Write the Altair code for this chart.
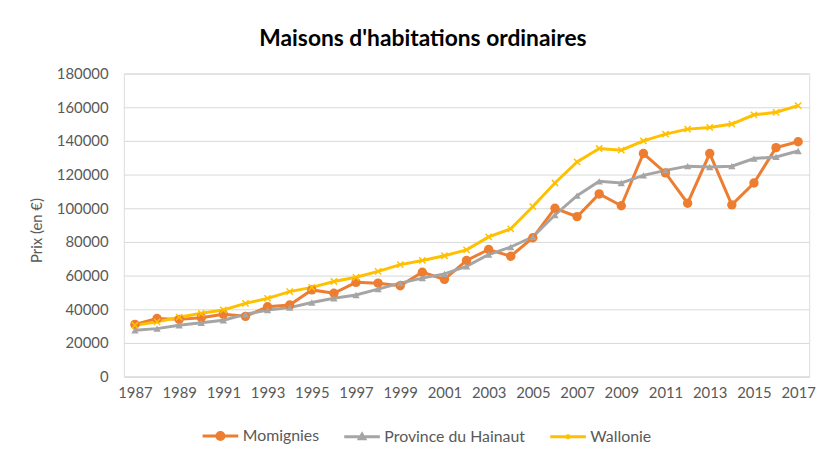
import altair as alt
import pandas as pd

years = list(range(1987, 2018))
momignies = [31000, 34500, 34000, 35000, 37000, 35800, 41500, 42500, 51500, 49500,
             56000, 55500, 54000, 62000, 57800, 69000, 75500, 71500, 82500, 100000,
             95000, 108500, 101500, 132500, 121000, 103000, 132500, 102000, 115000,
             136000, 139500]
hainaut = [27500, 28500, 30500, 32000, 33500, 37000, 39500, 41000, 44000, 46500,
           48500, 52000, 55500, 58500, 61000, 65500, 72500, 77000, 83000, 96000,
           107500, 116000, 115000, 119500, 122500, 125000, 124500, 125000, 129500,
           130500, 134000]
wallonie = [30500, 32500, 35300, 37600, 39600, 43500, 46500, 50500, 53000, 56500,
            59000, 62500, 66500, 69000, 71800, 75300, 83000, 87800, 101000, 115000,
            127500, 135500, 134500, 140000, 144000, 147000, 148000, 150000, 155500,
            157000, 161000]
series = ["Momignies", "Province du Hainaut", "Wallonie"]
colors = ["#ED7D31", "#A5A5A5", "#FFC000"]
x_ticks = list(range(1987, 2018, 2))
y_ticks = list(range(0, 180001, 20000))

rows = []
for name, vals in zip(series, [momignies, hainaut, wallonie]):
    for yr, v in zip(years, vals):
        rows.append({"year": yr, "prix": v, "serie": name})
df = pd.DataFrame(rows)

FONT = "Lato"
TXT = "#595959"

x = alt.X("year:Q",
          scale=alt.Scale(domain=[1986.5, 2017.5], nice=False, zero=False),
          axis=alt.Axis(values=x_ticks, format="d", title=None, grid=False, ticks=False,
                        domainColor="#D9D9D9", domainWidth=1, labelPadding=9,
                        labelFlush=False, labelOverlap=False, labelFont=FONT,
                        labelFontSize=15, labelColor=TXT))
y = alt.Y("prix:Q",
          scale=alt.Scale(domain=[0, 180000], nice=False),
          axis=alt.Axis(values=y_ticks, format="d", title="Prix (en €)", ticks=False,
                        domain=False, gridColor="#D9D9D9", gridWidth=1, labelPadding=16,
                        labelFont=FONT, labelFontSize=15, labelColor=TXT,
                        titleFont=FONT, titleFontSize=15, titleFontWeight="normal",
                        titleColor=TXT, titleX=-88, titleY=158, titleAngle=270,
                        titleAlign="center", titleBaseline="middle"))

p_circle = "M-1,0H1M-0.2,0A0.2,0.2,0,1,0,0.2,0A0.2,0.2,0,1,0,-0.2,0Z"
p_tri = "M-1,0H1M-0.15,0.12L0,-0.14L0.15,0.12Z"
p_cross = "M-1,0H1M-0.1,-0.1L0.1,0.1M-0.1,0.1L0.1,-0.1"
sym_expr = ("datum.value == 'Momignies' ? '" + p_circle + "' : datum.value == 'Province du Hainaut' ? '"
            + p_tri + "' : '" + p_cross + "'")

legend = alt.Legend(title=None, orient="none", legendX=78, legendY=346, direction="horizontal",
                    symbolType=alt.ExprRef(sym_expr), symbolSize=1296, symbolStrokeWidth=3,
                    symbolFillColor=alt.ExprRef("scale('color', datum.value)"),
                    symbolOpacity=1, labelFont=FONT, labelFontSize=16, labelColor=TXT,
                    labelOffset=3, columnPadding=18)

color = alt.Color("serie:N", scale=alt.Scale(domain=series, range=colors), legend=legend)

base = alt.Chart(df)
lines = base.mark_line(strokeWidth=3).encode(x=x, y=y, color=color)

pts_c = base.transform_filter(alt.datum.serie == series[0]).mark_point(
    filled=True, shape="circle", size=90, opacity=1).encode(x=x, y=y, color=alt.value(colors[0]))
pts_t = base.transform_filter(alt.datum.serie == series[1]).mark_point(
    filled=True, shape="triangle-up", size=55, opacity=1).encode(x=x, y=y, color=alt.value(colors[1]))
pts_x = base.transform_filter(alt.datum.serie == series[2]).mark_point(
    filled=False, shape="M-1,-1L1,1M-1,1L1,-1", size=40, strokeWidth=1.5, opacity=1).encode(
    x=x, y=y, color=alt.value(colors[2]))

chart = alt.layer(lines, pts_c, pts_t, pts_x).properties(
    width=692, height=306,
    autosize=alt.AutoSizeParams(type="none"),
    padding={"left": 117, "top": 64, "right": 21, "bottom": 83},
    title=alt.TitleParams("Maisons d'habitations ordinaires", font=FONT, fontSize=23,
                          fontWeight="bold", color="#000000", anchor="middle", dx=-44, offset=16),
).configure_view(stroke=None).configure(background="white")

chart.save("out.html", embed_options={"renderer": "svg", "actions": False})
